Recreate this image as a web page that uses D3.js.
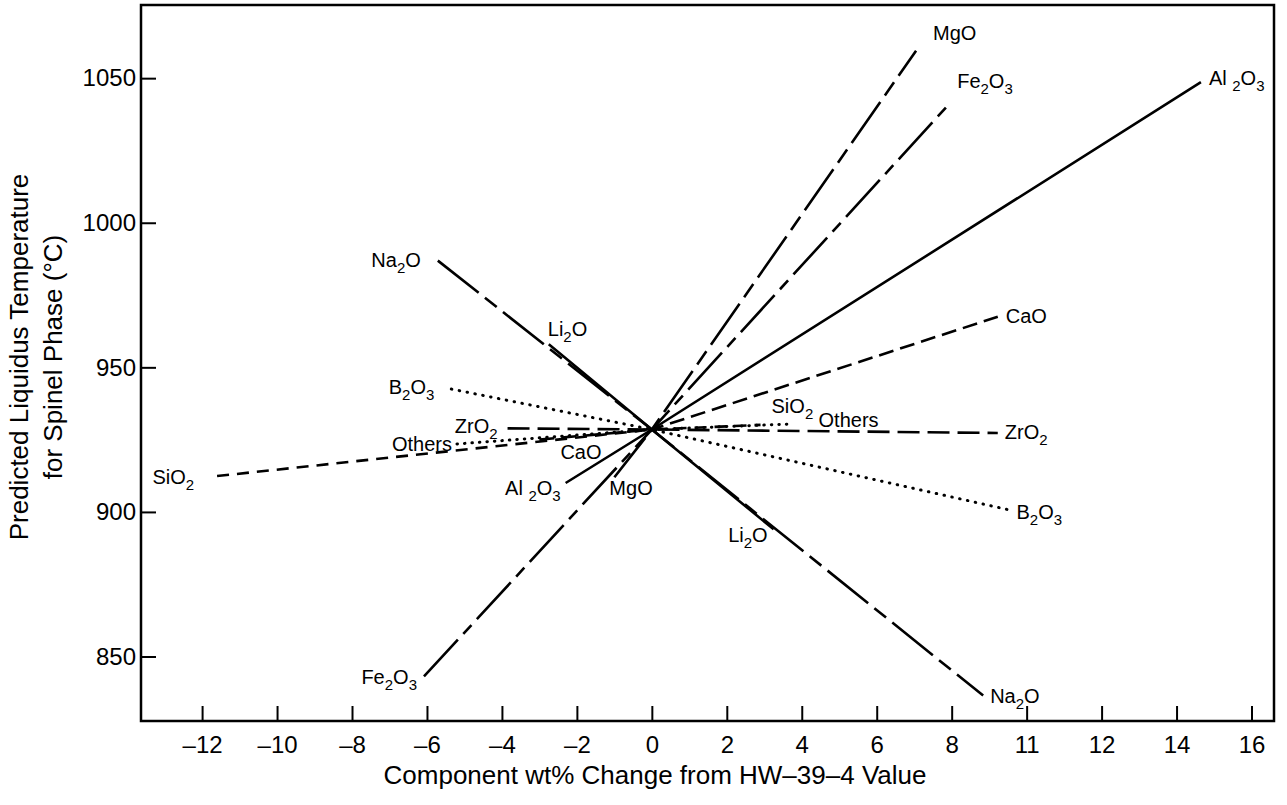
<!DOCTYPE html>
<html>
<head>
<meta charset="utf-8">
<script src="https://cdn.jsdelivr.net/npm/d3@7"></script>
<style>
  body { margin: 0; background: #fff; }
  svg { display: block; }
  text { font-family: "Liberation Sans", Arial, Helvetica, sans-serif; fill: #000; }
</style>
</head>
<body>
<svg id="chart" width="1287" height="805"></svg>
<script>
// Each component trace runs from its negative-change end, through the
// HW-39-4 baseline at zero change, to its positive-change end.
const components = ["Al 2O3", "MgO", "Fe2O3", "Na2O", "Li2O", "CaO", "ZrO2", "B2O3", "SiO2", "Others"];
const baseTemp = 928.5;
const lowChange  = [-2.3, -1.0, -6.08, -5.71, -2.75, -3.0, -3.85, -5.35, -11.6, -5.2];
const lowTemp    = [910.0, 912.0, 843.1, 986.9, 958.0, 925.0, 928.9, 942.5, 912.4, 923.5];
const highChange = [14.65, 7.05, 7.88, 8.84, 3.25, 9.23, 9.23, 9.57, 2.9, 3.7];
const highTemp   = [1048.6, 1059.5, 1040.3, 836.5, 894.0, 967.5, 927.3, 900.6, 930.1, 930.4];

const xTickValues = [-12, -10, -8, -6, -4, -2, 0, 2, 4, 6, 8, 10, 12, 14, 16];
const xTickLabels = ["–12", "–10", "–8", "–6", "–4", "–2", "0", "2", "4", "6", "8", "11", "12", "14", "16"];
const yTickValues = [850, 900, 950, 1000, 1050];

// Stroke pattern per trace
const lineStyle = {
  "Al 2O3": { dash: null },
  "MgO":    { dash: "50,8,16,8" },
  "Fe2O3":  { dash: "50,8,12,8" },
  "Na2O":   { dash: "52,8,15,8" },
  "Li2O":   { dash: null },
  "CaO":    { dash: "15,7" },
  "ZrO2":   { dash: "22,8" },
  "B2O3":   { dash: "0.5,7.5", dotted: true },
  "SiO2":   { dash: "12,8" },
  "Others": { dash: "0.5,7", dotted: true }
};

// Label placement next to each trace end: [anchor, dx, dy] in pixels
const labelPlace = {
  "Al 2O3": { low: ["end", -5, 12],   high: ["start", 8, 3] },
  "MgO":    { low: ["start", -5, 18], high: ["start", 17, -11] },
  "Fe2O3":  { low: ["end", -7, 8],    high: ["start", 10, -18] },
  "Na2O":   { low: ["end", -17, 6],   high: ["start", 7, 7] },
  "Li2O":   { low: ["start", -1, -8], high: ["end", -6, 13] },
  "CaO":    { low: ["start", 21, 19], high: ["start", 8, 6] },
  "ZrO2":   { low: ["end", -10, 5],   high: ["start", 7, 6] },
  "B2O3":   { low: ["end", -17, 5],   high: ["start", 6, 9] },
  "SiO2":   { low: ["end", -23, 8],   high: ["start", 11, -12] },
  "Others": { low: ["end", -5, 7],    high: ["start", 28, 3] }
};

const plot = { left: 141, right: 1274, top: 5, bottom: 721 };

const x = d3.scaleLinear().domain([-13.63, 16.6]).range([plot.left, plot.right]);
const y = d3.scaleLinear().domain([827.7, 1075.3]).range([plot.bottom, plot.top]);

const svg = d3.select("#chart");
const fontStack = '"Liberation Sans", Arial, Helvetica, sans-serif';

// Axes with inward ticks
const xAxis = d3.axisBottom(x)
  .tickValues(xTickValues)
  .tickFormat((d, i) => xTickLabels[i])
  .tickSizeInner(-15).tickSizeOuter(0).tickPadding(15);
const gx = svg.append("g").attr("transform", `translate(0,${plot.bottom})`).call(xAxis);
gx.select(".domain").remove();
gx.selectAll(".tick line").attr("stroke", "#000").attr("stroke-width", 2);
gx.selectAll(".tick text").attr("font-size", 24).attr("fill", "#000").style("font-family", fontStack);

const yAxis = d3.axisLeft(y)
  .tickValues(yTickValues)
  .tickFormat(d3.format("d"))
  .tickSizeInner(-15).tickSizeOuter(0).tickPadding(5);
const gy = svg.append("g").attr("transform", `translate(${plot.left},0)`).call(yAxis);
gy.select(".domain").remove();
gy.selectAll(".tick line").attr("stroke", "#000").attr("stroke-width", 2);
gy.selectAll(".tick text").attr("font-size", 24).attr("fill", "#000").style("font-family", fontStack);

// Frame
svg.append("rect")
  .attr("x", plot.left).attr("y", plot.top)
  .attr("width", plot.right - plot.left).attr("height", plot.bottom - plot.top)
  .attr("fill", "none").attr("stroke", "#000").attr("stroke-width", 2.5);

// Traces
const line = d3.line().x(d => x(d[0])).y(d => y(d[1]));
const traces = components.map((name, i) => ({
  name,
  pts: [[lowChange[i], lowTemp[i]], [0, baseTemp], [highChange[i], highTemp[i]]]
}));

svg.append("g").selectAll("path").data(traces).join("path")
  .attr("d", d => line(d.pts))
  .attr("fill", "none")
  .attr("stroke", "#000")
  .attr("stroke-width", d => lineStyle[d.name].dotted ? 3 : 2.6)
  .attr("stroke-linecap", d => lineStyle[d.name].dotted ? "round" : "butt")
  .attr("stroke-dasharray", d => lineStyle[d.name].dash);

// Chemical formula labels with subscripted digits
function formula(sel, str) {
  const parts = str.match(/\d+|\D+/g);
  let shift = 0;
  parts.forEach(p => {
    const isSub = /^\d+$/.test(p);
    const target = isSub ? 6 : 0;
    sel.append("tspan")
      .attr("dy", target - shift)
      .attr("font-size", isSub ? 15 : 20)
      .text(p);
    shift = target;
  });
}

const labels = svg.append("g");
traces.forEach(t => {
  const ends = { low: t.pts[0], high: t.pts[2] };
  ["low", "high"].forEach(k => {
    const [anchor, dx, dy] = labelPlace[t.name][k];
    const txt = labels.append("text")
      .attr("x", x(ends[k][0]) + dx)
      .attr("y", y(ends[k][1]) + dy)
      .attr("text-anchor", anchor)
      .attr("font-size", 20);
    formula(txt, t.name);
  });
});

// Axis titles
svg.append("text")
  .attr("x", 655).attr("y", 784)
  .attr("text-anchor", "middle").attr("font-size", 26)
  .text("Component wt% Change from HW–39–4 Value");

const yTitle = svg.append("text")
  .attr("transform", "translate(0,357) rotate(-90)")
  .attr("text-anchor", "middle").attr("font-size", 26);
yTitle.append("tspan").attr("x", 0).attr("y", 28).text("Predicted Liquidus Temperature");
yTitle.append("tspan").attr("x", 0).attr("y", 62).text("for Spinel Phase (°C)");
</script>
</body>
</html>
